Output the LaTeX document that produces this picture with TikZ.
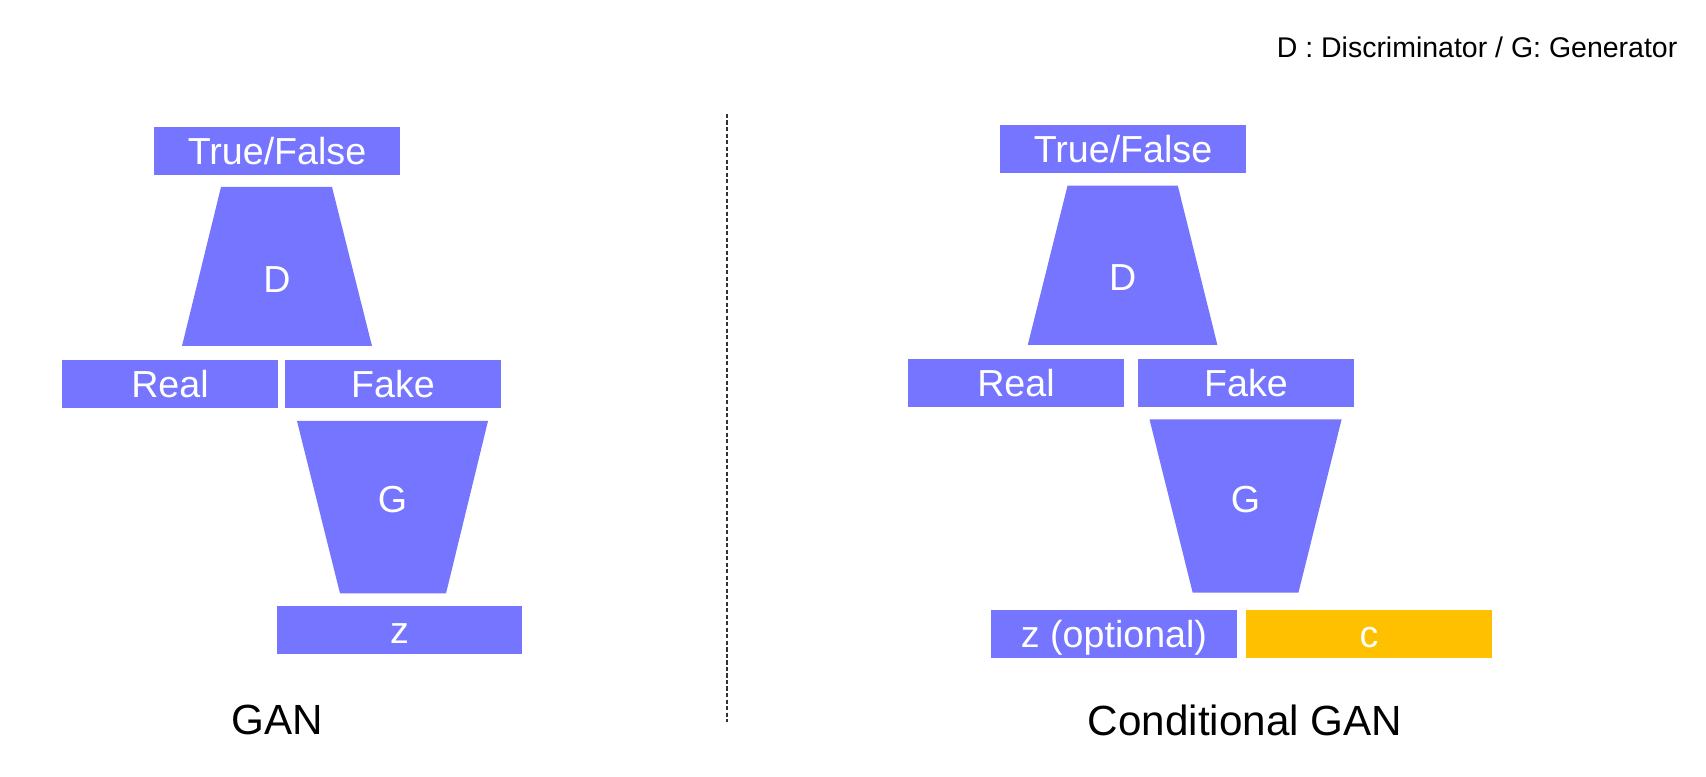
\documentclass[tikz,border=0pt]{standalone}
\usepackage{fontspec}
\setmainfont{Liberation Sans}
\usepackage{xcolor}
\usetikzlibrary{positioning}

\definecolor{ganblue}{RGB}{117,117,255}
\definecolor{condgold}{RGB}{255,192,0}
\definecolor{sepgray}{RGB}{51,51,51}

\tikzset{
  block/.style={fill=ganblue, text=white, inner sep=0pt,
                font=\fontsize{10.7}{12}\selectfont,
                text height=7.7pt, text depth=0pt,
                minimum width=2.16cm, minimum height=0.48cm},
  net/.style={fill=ganblue},
  netlabel/.style={text=white, inner sep=0pt,
                   font=\fontsize{10.7}{12}\selectfont,
                   text height=7.7pt, text depth=0pt},
  caption/.style={inner sep=0pt, font=\fontsize{12}{14}\selectfont},
}

\begin{document}
\begin{tikzpicture}[x=0.01cm, y=-0.01cm]

\useasboundingbox (0,0) rectangle (1706,777);

% ---------------------------------------------------------
% Legend
% ---------------------------------------------------------
\node[inner sep=0pt, anchor=base east, font=\fontsize{8.1}{10}\selectfont]
    (legend) at (1678,58) {D : Discriminator / G: Generator};

% ---------------------------------------------------------
% Separator
% ---------------------------------------------------------
\coordinate (sepTop) at (727,114);
\coordinate (sepBot) at (727,722);
\draw[sepgray, line width=0.7pt, dash pattern=on 1.15pt off 0.7pt]
    (sepTop) -- (sepBot);

% ---------------------------------------------------------
% GAN (left)
% ---------------------------------------------------------
\node[block, minimum width=2.46cm] (tfL) at (277,151) {True/False};

\fill[net] (221,187) -- (332,187) -- (372,346) -- (182,346) -- cycle;  % D
\node[netlabel] (dL) at (277,279) {D};

\node[block] (realL) at (170,384) {Real};
\node[block] (fakeL) at (393,384) {Fake};

\fill[net] (297,421) -- (488,421) -- (446,593.5) -- (340,593.5) -- cycle;  % G
\node[netlabel] (gL) at (392.5,499) {G};

\node[block, minimum width=2.45cm] (zL) at (399.5,630) {z};

\node[caption, anchor=base] (ganL) at (277,735) {GAN};

% ---------------------------------------------------------
% Conditional GAN (right)
% ---------------------------------------------------------
\node[block, minimum width=2.46cm] (tfR) at (1123,149) {True/False};

\fill[net] (1067.5,185.7) -- (1177.8,185.7) -- (1217.4,345) -- (1027.8,345) -- cycle;  % D
\node[netlabel] (dR) at (1122.6,277) {D};

\node[block] (realR) at (1016,383) {Real};
\node[block] (fakeR) at (1246,383) {Fake};

\fill[net] (1149.5,419.5) -- (1341.6,419.5) -- (1298.4,592.7) -- (1192.7,592.7) -- cycle;  % G
\node[netlabel] (gR) at (1245.5,499) {G};

\node[block, minimum width=2.46cm] (zR) at (1114,634) {z (optional)};
\node[block, fill=condgold, minimum width=2.46cm] (cR) at (1369,634) {c};

\node[caption, anchor=base] (cganR) at (1245,736) {Conditional GAN};

\end{tikzpicture}
\end{document}
